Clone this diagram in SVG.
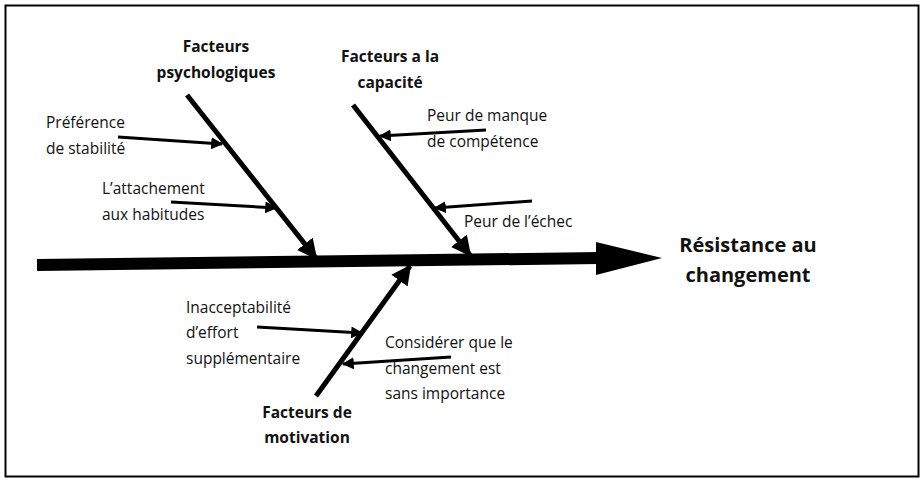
<svg xmlns="http://www.w3.org/2000/svg" width="924" height="482" viewBox="0 0 924 482">
<style>
text{font-family:"Open Sans","Liberation Sans",sans-serif;fill:#111}
.l{font-size:15.5px}
.b{font-size:15.5px;font-weight:bold;text-anchor:middle}
.t{font-size:20px;font-weight:bold;text-anchor:middle}
.bone{stroke:#000;stroke-width:5;fill:none}
.sub{stroke:#000;stroke-width:3;fill:none}
</style>
<defs>
<marker id="ah" viewBox="0 0 10 10" refX="9" refY="5" markerWidth="4" markerHeight="4" orient="auto" markerUnits="strokeWidth"><path d="M0,0 L10,5 L0,10 z" fill="#000"/></marker>
<marker id="ah2" viewBox="0 0 10 10" refX="9" refY="5" markerWidth="4" markerHeight="4" orient="auto" markerUnits="strokeWidth"><path d="M0,0 L10,5 L0,10 z" fill="#000"/></marker>
</defs>
<rect x="5.5" y="5.5" width="913" height="471" fill="#fff" stroke="#000" stroke-width="2"/>
<g id="connectors">
<path d="M37,265 L600,258" stroke="#000" stroke-width="12"/>
<path d="M596,242 L662,258 L596,275 z" fill="#000"/>
<line class="bone" x1="187" y1="95" x2="316" y2="258" marker-end="url(#ah)"/>
<line class="bone" x1="353" y1="105" x2="470" y2="255" marker-end="url(#ah)"/>
<line class="bone" x1="316" y1="396" x2="410" y2="266" marker-end="url(#ah)"/>
<line class="sub" x1="118" y1="137" x2="222" y2="144" marker-end="url(#ah2)"/>
<line class="sub" x1="171" y1="202" x2="276" y2="208" marker-end="url(#ah2)"/>
<line class="sub" x1="486" y1="130" x2="380" y2="136" marker-end="url(#ah2)"/>
<line class="sub" x1="532" y1="201" x2="435" y2="208" marker-end="url(#ah2)"/>
<line class="sub" x1="257" y1="327" x2="362" y2="333" marker-end="url(#ah2)"/>
<line class="sub" x1="451" y1="357" x2="343" y2="364" marker-end="url(#ah2)"/>
</g>
<g id="effect"><text class="t" x="748" y="252">Résistance au</text><text class="t" x="748" y="282">changement</text></g>
<g id="psy"><text class="b" x="216" y="52">Facteurs</text><text class="b" x="216" y="78">psychologiques</text></g>
<g id="cap"><text class="b" x="390" y="62">Facteurs a la</text><text class="b" x="390" y="88">capacité</text></g>
<g id="mot"><text class="b" x="307" y="418">Facteurs de</text><text class="b" x="307" y="443">motivation</text></g>
<g id="pref"><text class="l" x="46" y="128">Préférence</text><text class="l" x="46" y="154">de stabilité</text></g>
<g id="attach"><text class="l" x="102" y="194">L’attachement</text><text class="l" x="102" y="220">aux habitudes</text></g>
<g id="manque"><text class="l" x="427" y="121">Peur de manque</text><text class="l" x="427" y="147">de compétence</text></g>
<g id="echec"><text class="l" x="464" y="227">Peur de l’échec</text></g>
<g id="inacc"><text class="l" x="186" y="313">Inacceptabilité</text><text class="l" x="186" y="338">d’effort</text><text class="l" x="186" y="364">supplémentaire</text></g>
<g id="consid"><text class="l" x="385" y="348">Considérer que le</text><text class="l" x="385" y="374">changement est</text><text class="l" x="385" y="399">sans importance</text></g>
</svg>
